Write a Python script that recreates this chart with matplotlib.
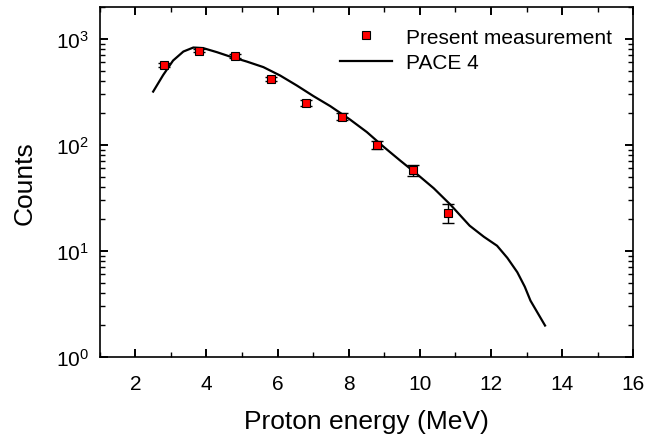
import numpy as np
import matplotlib
matplotlib.use("Agg")
import matplotlib.pyplot as plt
from matplotlib.ticker import LogLocator, MultipleLocator, NullFormatter

plt.rcParams['font.family'] = ['Liberation Sans', 'DejaVu Sans']
plt.rcParams['mathtext.default'] = 'regular'

# measured spectrum
measE = [2.8, 3.8, 4.8, 5.8, 6.8, 7.8, 8.8, 9.8, 10.8]
measCounts = [572, 776, 687, 419, 249, 185, 100, 58, 23]
measErr = [24, 28, 25, 20, 15, 13, 9, 7, 4.7]

# PACE 4 prediction
paceE = [2.50, 2.78, 3.06, 3.35, 3.63, 3.91, 4.29, 4.66, 5.13, 5.60, 6.07, 6.54,
         7.01, 7.48, 8.04, 8.51, 8.98, 9.45, 9.91, 10.39, 10.86, 11.40,
         11.80, 12.17, 12.46, 12.74, 12.95, 13.11, 13.52]
paceCounts = [318, 455, 624, 759, 828, 817, 749, 681, 611, 541, 451, 363,
              288, 232, 173, 132, 96, 71, 53.3, 39.0, 27.3, 17.3,
              13.6, 11.2, 8.6, 6.3, 4.6, 3.4, 1.98]

fig = plt.figure(figsize=(6.61, 4.39), dpi=100)
ax = fig.add_axes([0.151, 0.1845, 0.807, 0.7975])

ax.errorbar(measE, measCounts, yerr=measErr, fmt="none", ecolor="black",
            elinewidth=1, capsize=4, capthick=1, zorder=3)
ax.plot(measE, measCounts, "s", markerfacecolor="red", markeredgecolor="black",
        markersize=6, markeredgewidth=0.8, label="Present measurement", zorder=4)
ax.plot(paceE, paceCounts, color="black", linewidth=1.6, label="PACE 4", zorder=2)

ax.set_yscale("log")
ax.set_xlim(1, 16)
ax.set_ylim(1, 2000)
ax.xaxis.set_major_locator(MultipleLocator(2))
ax.xaxis.set_minor_locator(MultipleLocator(1))
ax.yaxis.set_major_locator(LogLocator(base=10, numticks=10))
ax.yaxis.set_minor_locator(LogLocator(base=10, subs=np.arange(2, 10), numticks=10))
ax.yaxis.set_minor_formatter(NullFormatter())

ax.tick_params(which="both", direction="in", top=True, right=True)
ax.tick_params(which="major", length=6, width=1.4, labelsize=15)
ax.tick_params(which="minor", length=3.5, width=1.0)
ax.tick_params(axis="x", which="major", pad=12)
ax.tick_params(axis="y", which="major", pad=8)
for s in ax.spines.values():
    s.set_linewidth(1.2)

ax.set_xlabel("Proton energy (MeV)", fontsize=19, labelpad=12)
ax.set_ylabel("Counts", fontsize=19, labelpad=14)

ax.legend(loc="upper right", frameon=False, fontsize=15,
          handlelength=2.5, handletextpad=0.7, labelspacing=0.3,
          borderpad=0.4, borderaxespad=0.6)

fig.savefig("out.png", dpi=100)
